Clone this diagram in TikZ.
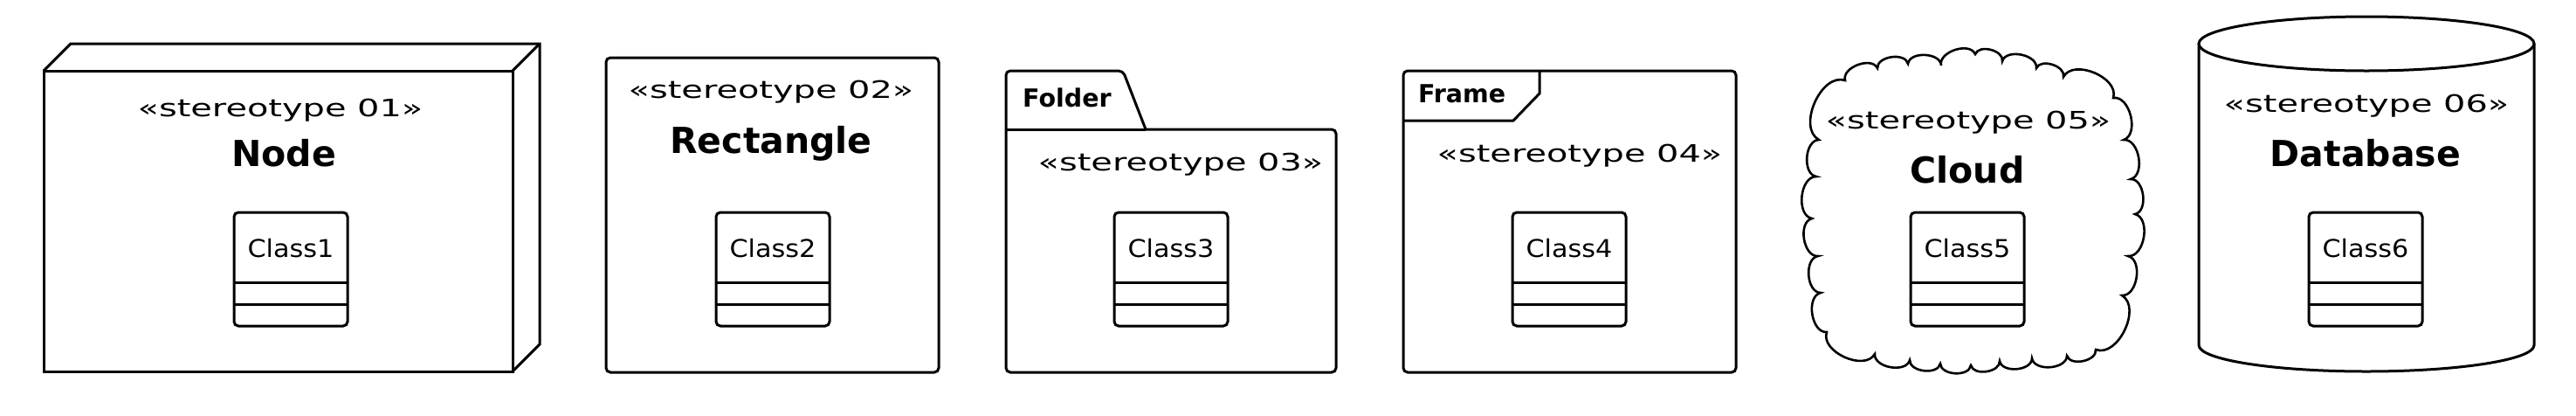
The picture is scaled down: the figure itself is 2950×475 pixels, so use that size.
\documentclass[tikz,border=0pt]{standalone}
\usepackage{fontspec}
\setmainfont{DejaVu Sans}
\newfontfamily\stereofont[FakeStretch=1.45]{DejaVu Sans}
\newfontfamily\classfont[FakeStretch=1.08]{DejaVu Sans}

\tikzset{
  shapeline/.style={draw=black, line width=3pt},
  classbox/.style={draw=black, line width=3pt, rounded corners=5pt},
  cloudbump/.style={bend left=85},
  stereo/.style={inner sep=0pt, anchor=base, font=\stereofont\fontsize{27.5}{32}\selectfont},
  shapetitle/.style={inner sep=0pt, anchor=base, font=\bfseries\fontsize{41}{48}\selectfont},
  tabtitle/.style={inner sep=0pt, anchor=base west, font=\bfseries\fontsize{28.5}{34}\selectfont},
  classname/.style={inner sep=0pt, anchor=base, font=\classfont\fontsize{28}{34}\selectfont},
}

\begin{document}
\begin{tikzpicture}[x=1pt, y=-1pt]
    \useasboundingbox (0,0) rectangle (2950,475);

    % Node (3D box)
    \draw[shapeline] (50,81) rectangle (587,425);
    \draw[shapeline] (50,81) -- (81,50) -- (618,50) -- (618,394) -- (587,425);
    \draw[shapeline] (587,81) -- (618,50);
    \node[stereo] (stereo1) at (321,133) {«stereotype 01»};
    \node[shapetitle] (title1) at (325,190) {Node};

    % Rectangle
    \draw[shapeline, rounded corners=5pt] (694,66) rectangle (1075,426);
    \node[stereo] (stereo2) at (883,112) {«stereotype 02»};
    \node[shapetitle] (title2) at (883,175) {Rectangle};

    % Folder
    \draw[shapeline, rounded corners=5pt] (1312,148) -- (1530,148) -- (1530,426)
        -- (1152,426) -- (1152,81) -- (1286,81) -- (1312,148);
    \draw[shapeline] (1152,148) -- (1312,148);
    \node[tabtitle] (tab3) at (1171,122) {Folder};
    \node[stereo] (stereo3) at (1352,195) {«stereotype 03»};

    % Frame
    \draw[shapeline, rounded corners=5pt] (1607,81) rectangle (1988,426);
    \draw[shapeline] (1763,81) -- (1763,107) -- (1733,138) -- (1607,138);
    \node[tabtitle] (tab4) at (1624,117) {Frame};
    \node[stereo] (stereo4) at (1809,185) {«stereotype 04»};

    % Cloud
    \draw[shapeline, line width=2.6pt]
        (2083,160) to[cloudbump] (2113,92) to[cloudbump] (2150,78)
        to[cloudbump] (2185,73) to[cloudbump] (2223,75) to[cloudbump] (2262,62)
        to[cloudbump] (2293,70) to[cloudbump] (2332,78) to[cloudbump] (2363,88)
        to[cloudbump] (2420,112) to[cloudbump] (2432,160) to[cloudbump] (2440,205)
        to[cloudbump] (2445,245) to[cloudbump] (2437,293) to[cloudbump] (2430,338)
        to[cloudbump] (2400,400) to[cloudbump] (2367,407) to[cloudbump] (2327,410)
        to[cloudbump] (2290,413) to[cloudbump] (2257,418) to[cloudbump] (2222,416)
        to[cloudbump] (2187,412) to[cloudbump] (2147,405) to[cloudbump] (2092,380)
        to[cloudbump] (2085,335) to[cloudbump] (2082,293) to[cloudbump] (2075,250)
        to[cloudbump] (2080,202) to[cloudbump] cycle;
    \node[stereo] (stereo5) at (2254,147) {«stereotype 05»};
    \node[shapetitle] (title5) at (2253,209) {Cloud};

    % Database (cylinder)
    \draw[shapeline] (2710,50) ellipse [x radius=192, y radius=31];
    \draw[shapeline] (2518,50) -- (2518,395)
        arc[start angle=180, end angle=0, x radius=192, y radius=30] -- (2902,50);
    \node[stereo] (stereo6) at (2710,128) {«stereotype 06»};
    \node[shapetitle] (title6) at (2709,190) {Database};

    % Classes
    \foreach \cx/\k in {333/1, 885/2, 1341/3, 1797/4, 2253/5, 2709/6} {
        \draw[classbox] (\cx-65,243) rectangle (\cx+65,373);
        \draw[shapeline] (\cx-65,323) -- (\cx+65,323);
        \draw[shapeline] (\cx-65,348) -- (\cx+65,348);
        \node[classname] (class\k) at (\cx,294) {Class\k};
    }

\end{tikzpicture}
\end{document}
